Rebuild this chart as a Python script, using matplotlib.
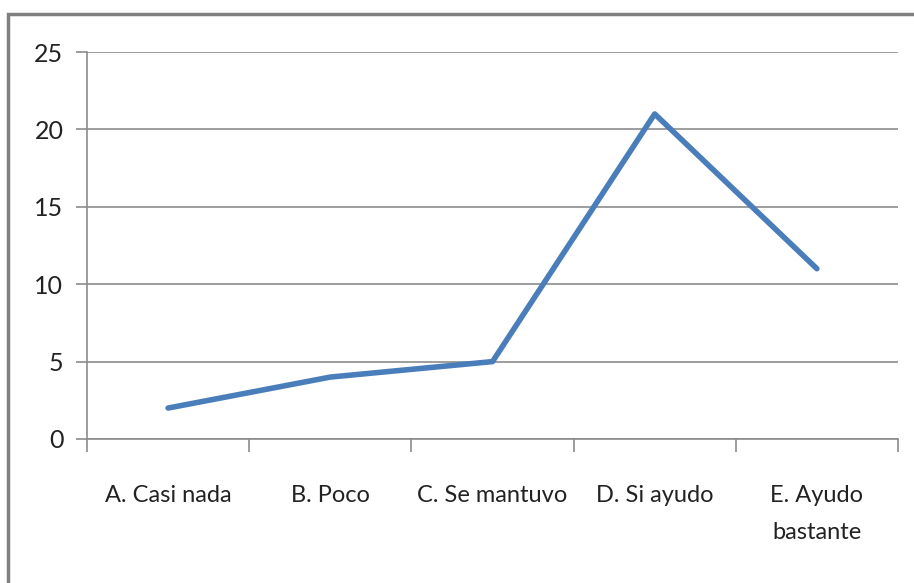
import matplotlib
matplotlib.use("Agg")
import matplotlib.pyplot as plt
from matplotlib.patches import Rectangle
import numpy as np

categories = ["A. Casi nada", "B. Poco", "C. Se mantuvo", "D. Si ayudo", "E. Ayudo\nbastante"]
values = [2, 4, 5, 21, 11]
yticks = [0, 5, 10, 15, 20, 25]

plt.rcParams['font.family'] = ['Lato', 'DejaVu Sans']

W, H = 914, 583
fig = plt.figure(figsize=(W / 100, H / 100), dpi=100)

# outer chart frame (cropped at right and bottom)
fig.patches.append(Rectangle((8 / W, -0.1), 1.2, 1 - 14 / H + 0.1, transform=fig.transFigure,
                             fill=False, edgecolor='#808080', linewidth=2.5, zorder=0))

ax = fig.add_axes([87 / W, 1 - 439 / H, (898 - 87) / W, (439 - 52) / H])
grid_col = '#8c8c8c'
x = np.arange(len(categories))
ax.plot(x, values, color='#4a7ebb', linewidth=4.0, solid_capstyle='round', zorder=3)

ax.set_xlim(-0.5, len(categories) - 0.5)
ax.set_ylim(0, 25)
ax.set_yticks(yticks)
ax.yaxis.grid(True, color=grid_col, linewidth=1.2)
ax.set_axisbelow(True)

for s in ['top', 'right']:
    ax.spines[s].set_visible(False)
for s in ['left', 'bottom']:
    ax.spines[s].set_color(grid_col)
    ax.spines[s].set_linewidth(1.2)

ax.set_xticks(x)
ax.set_xticklabels(categories, fontsize=17, color='#222222', linespacing=1.95)
ax.set_xticks(np.arange(-0.5, len(categories)), minor=True)
ax.tick_params(axis='x', which='major', length=0, pad=33)
ax.tick_params(axis='x', which='minor', length=9, color=grid_col, width=1.2)
ax.tick_params(axis='y', length=8, color=grid_col, width=1.2, labelsize=18,
               labelcolor='#222222', pad=9)

fig.savefig("out.png", dpi=100)
